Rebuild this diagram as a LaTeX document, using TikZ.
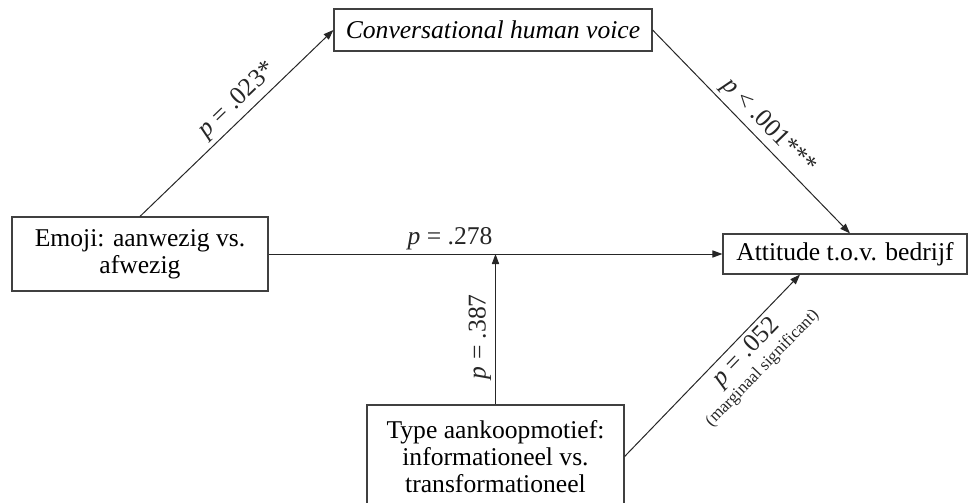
\documentclass[tikz,border=0pt]{standalone}
\usepackage{fontspec}
\setmainfont{Liberation Serif}
\usetikzlibrary{positioning,arrows.meta,calc}

\begin{document}
\begin{tikzpicture}[x=0.5pt,y=-0.5pt,
  box/.style={draw=black!75,line width=0.6pt,inner sep=2pt,align=center,font=\fontsize{12.8}{13.4}\selectfont},
  lab/.style={font=\fontsize{12.8}{13.4}\selectfont,sloped,inner sep=2pt},
  arr/.style={-{Triangle[length=5pt,width=3.6pt]},line width=0.5pt,black!85}]
\useasboundingbox (0,0) rectangle (970,503);
% boxes
\node[box,minimum width=128pt,minimum height=37pt] (emoji) at (140,254) {Emoji: aanwezig vs.\\afwezig};
\node[box,minimum width=159pt,minimum height=21pt] (chv) at (493,30) {\textit{Conversational human voice}};
\node[box,minimum width=122pt,minimum height=20pt] (att) at (845,254) {Attitude t.o.v. bedrijf};
\node[box,minimum width=128.5pt,minimum height=51.5pt] (type) at (495.5,456.5) {Type aankoopmotief:\\informationeel vs.\\transformationeel};
% helper points on the target side
\coordinate (j) at (type.north |- emoji.east);
\coordinate (t) at ($(att.south)+(-45,0)$);
% paths with p-values
\draw[arr] (emoji.north) -- node[lab,above,pos=0.56] {\textit{p} = .023*} (chv.west);
\draw[arr] (chv.east) -- node[lab,above,pos=0.53] {\textit{p} < .001***} ($(att.north)+(5,0)$);
\draw[arr] (emoji.east) -- node[lab,above,pos=0.4] {\textit{p} = .278} (att.west);
\draw[arr] (type.north) -- node[lab,above,pos=0.45] {\textit{p} = .387} (j);
\draw[arr] (type.east) -- node[lab,below,pos=0.63,align=center] {\textit{p} = .052\\[-3pt]{\fontsize{8.5}{9}\selectfont (marginaal significant)}} (t);
\end{tikzpicture}
\end{document}
